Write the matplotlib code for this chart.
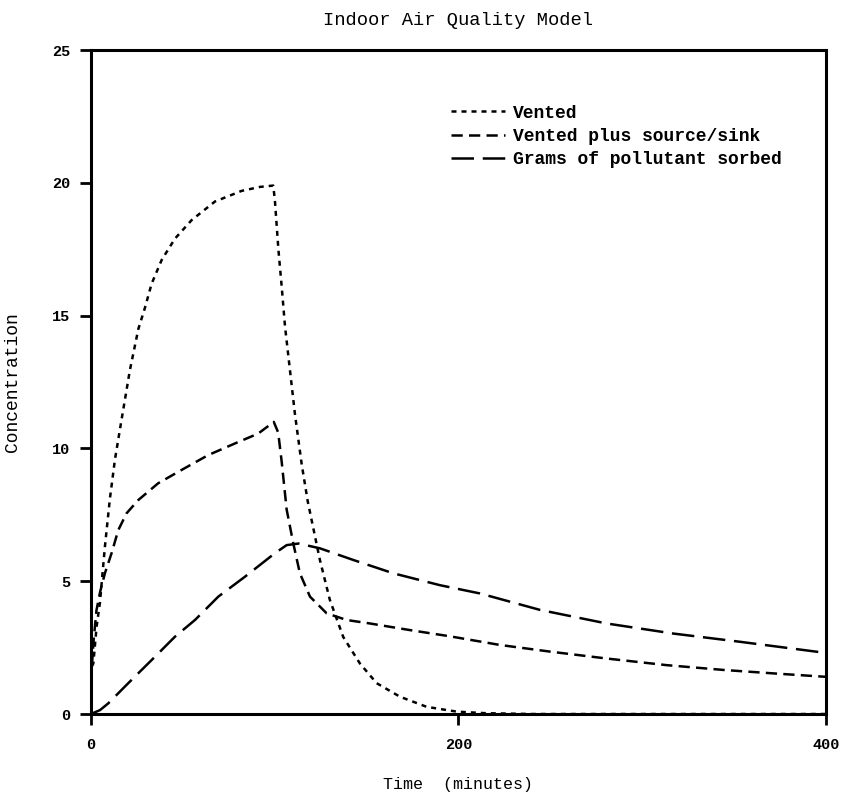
"""
Indoor air quality model: concentration vs time for three model runs.
"""
import matplotlib
matplotlib.use("Agg")
import matplotlib.pyplot as plt

plt.rcParams['font.family'] = ['Liberation Mono', 'DejaVu Sans Mono']

# Vented (dotted)
vented_t = [0.5, 1.3, 3.1, 4.9, 7.6, 10.3, 13.1, 16.7, 21.2, 25.8, 29.4, 33, 38.5, 45.7,
            54.8, 67.5, 82, 92, 99.2, 100.1, 102, 103.8, 105.6, 108.3, 111, 114.7, 118,
            120.1, 124.6, 130, 137.3, 146.4, 155.5, 168.2, 182.7, 199, 215, 240, 400]
vented_c = [1.8, 1.9, 3.3, 4.2, 6.3, 8.1, 9.6, 11.1, 12.95, 14.5, 15.3, 16.2, 17.1, 17.9,
            18.6, 19.3, 19.7, 19.85, 19.9, 19.35, 17.5, 16.1, 14.6, 12.95, 11.3, 9.4, 8.0,
            7.3, 5.8, 4.3, 2.9, 1.9, 1.16, 0.65, 0.27, 0.09, 0.03, 0.0, 0.0]

# Vented plus source/sink (dashed)
sink_t = [0.5, 1.5, 3, 5, 7.6, 11.2, 14.9, 19.4, 25.8, 36.6, 49.3, 63.8, 78.4, 91, 99.5,
          101.9, 103.8, 106.5, 110.1, 113.7, 119.2, 128.3, 139.2, 151.8, 173.6, 195,
          222.6, 249.8, 280.6, 313.3, 344.1, 371.3, 400]
sink_c = [1.8, 2.8, 3.9, 4.6, 5.3, 6.05, 6.93, 7.56, 8.06, 8.69, 9.19, 9.75, 10.19, 10.56,
          11.0, 10.6, 9.5, 7.7, 6.43, 5.3, 4.42, 3.79, 3.54, 3.41, 3.16, 2.93,
          2.6, 2.35, 2.09, 1.84, 1.66, 1.53, 1.4]

# Grams of pollutant sorbed (long dashes)
sorbed_t = [0, 5, 9.4, 20.3, 33, 45.7, 56.6, 69.3, 83.8, 100, 106.5, 113, 124.6, 142.8,
            164.5, 190, 211.7, 244.4, 280.6, 316.9, 353.2, 400]
sorbed_c = [0, 0.15, 0.4, 1.16, 2.03, 2.91, 3.54, 4.42, 5.17, 6.05, 6.36, 6.42, 6.24, 5.8,
            5.3, 4.85, 4.54, 3.92, 3.41, 3.03, 2.72, 2.3]

x_ticks = [0, 200, 400]
y_ticks = [0, 5, 10, 15, 20, 25]

fig = plt.figure(figsize=(8.42, 7.96), dpi=100)
ax = fig.add_axes([0.108, 0.103, 0.873, 0.834])

lw = 1.8
ax.plot(vented_t, vented_c, color='black', lw=lw, linestyle=(0, (2, 2)), label='Vented')
ax.plot(sink_t, sink_c, color='black', lw=lw, linestyle=(0, (4.5, 2.5)),
        label='Vented plus source/sink')
ax.plot(sorbed_t, sorbed_c, color='black', lw=lw, linestyle=(0, (9, 3.5)),
        label='Grams of pollutant sorbed')

ax.set_xlim(0, 400)
ax.set_ylim(0, 25)
ax.set_xticks(x_ticks)
ax.set_yticks(y_ticks)
ax.tick_params(axis='both', direction='out', length=8, width=2, labelsize=11)
ax.tick_params(axis='x', pad=9)
ax.tick_params(axis='y', pad=7)
for lab in ax.get_xticklabels() + ax.get_yticklabels():
    lab.set_fontweight('bold')
for s in ax.spines.values():
    s.set_linewidth(2.2)

ax.set_title('Indoor Air Quality Model', fontsize=13.5, pad=18)
ax.set_xlabel('Time  (minutes)', fontsize=12, labelpad=18)
ax.set_ylabel('Concentration', fontsize=13, labelpad=22)

leg = ax.legend(loc='upper left', bbox_to_anchor=(0.49, 0.918), frameon=False,
                prop={'size': 13, 'weight': 'bold'}, handlelength=3,
                handletextpad=0.4, labelspacing=0.35, borderpad=0, borderaxespad=0)

fig.savefig('out.png', dpi=100)
